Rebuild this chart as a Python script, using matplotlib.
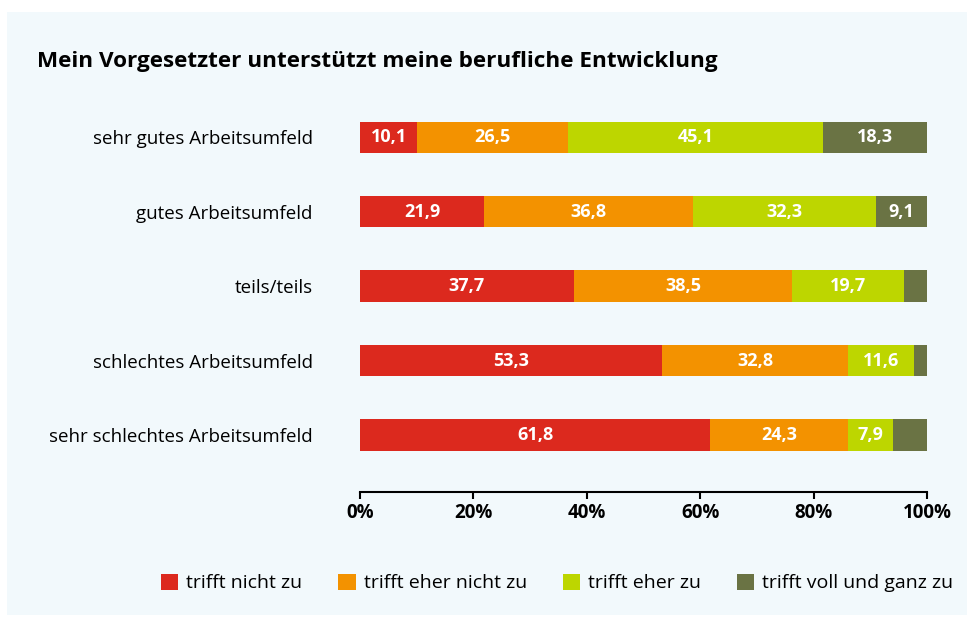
import numpy as np
import matplotlib.pyplot as plt
from matplotlib.patches import Patch

plt.rcParams['font.family'] = ['Open Sans', 'DejaVu Sans']

title = 'Mein Vorgesetzter unterstützt meine berufliche Entwicklung'
categories = ['sehr gutes Arbeitsumfeld', 'gutes Arbeitsumfeld', 'teils/teils',
              'schlechtes Arbeitsumfeld', 'sehr schlechtes Arbeitsumfeld']
series = ['trifft nicht zu', 'trifft eher nicht zu', 'trifft eher zu', 'trifft voll und ganz zu']
nicht = [10.1, 21.9, 37.7, 53.3, 61.8]
eher_nicht = [26.5, 36.8, 38.5, 32.8, 24.3]
eher = [45.1, 32.3, 19.7, 11.6, 7.9]
voll = [18.3, 9.1, 4.1, 2.3, 6.0]
shown = [[True] * 5, [True] * 5, [True] * 5, [True, True, False, False, False]]
colors = ['#dc291e', '#f39200', '#bdd600', '#6a7344']
ticks = [0, 20, 40, 60, 80, 100]

bg = '#f2f9fc'
fig = plt.figure(figsize=(9.73, 6.21), dpi=100)
fig.patch.set_facecolor('white')
panel = plt.Rectangle((7 / 973, 1 - 615 / 621), 960 / 973, 603 / 621,
                      transform=fig.transFigure, facecolor=bg, edgecolor='none', zorder=-10)
fig.patches.append(panel)

ax = fig.add_axes([360 / 973, 1 - 492 / 621, 567 / 973, 392 / 621])
ax.set_facecolor('none')
ax.set_zorder(2)

y = np.arange(len(categories))
left = np.zeros(len(categories))
for vals, col, name, show in zip([nicht, eher_nicht, eher, voll], colors, series, shown):
    vals = np.array(vals)
    ax.barh(y, vals, left=left, height=0.42, color=col, label=name)
    for i, v in enumerate(vals):
        if show[i]:
            ax.text(left[i] + v / 2, y[i], f'{v:.1f}'.replace('.', ','), ha='center', va='center',
                    color='white', fontsize=13, fontweight='bold')
    left += vals

ax.set_xlim(0, 100)
ax.set_ylim(4.765, -0.5)
ax.set_yticks(y)
ax.set_yticklabels(categories, fontsize=13.5)
ax.tick_params(axis='y', length=0, pad=34)
ax.set_xticks(ticks)
ax.set_xticklabels([f'{t}%' for t in ticks], fontsize=13.5, fontweight='bold')
ax.tick_params(axis='x', length=5, width=1.5, direction='out', pad=3)
for s in ['top', 'right', 'left']:
    ax.spines[s].set_visible(False)
ax.spines['bottom'].set_linewidth(1.5)

fig.text(37 / 973, 1 - 62 / 621, title, fontsize=16.2, fontweight='bold', va='center', ha='left')

handles = [Patch(facecolor=c, edgecolor='none') for c in colors]
fig.legend(handles, series, loc='center', bbox_to_anchor=(557 / 973, 1 - 583 / 621), ncol=4,
           frameon=False, fontsize=14, handlelength=0.9, handleheight=0.9,
           handletextpad=0.4, columnspacing=1.85)

fig.savefig('out.png', dpi=100, facecolor='white')
